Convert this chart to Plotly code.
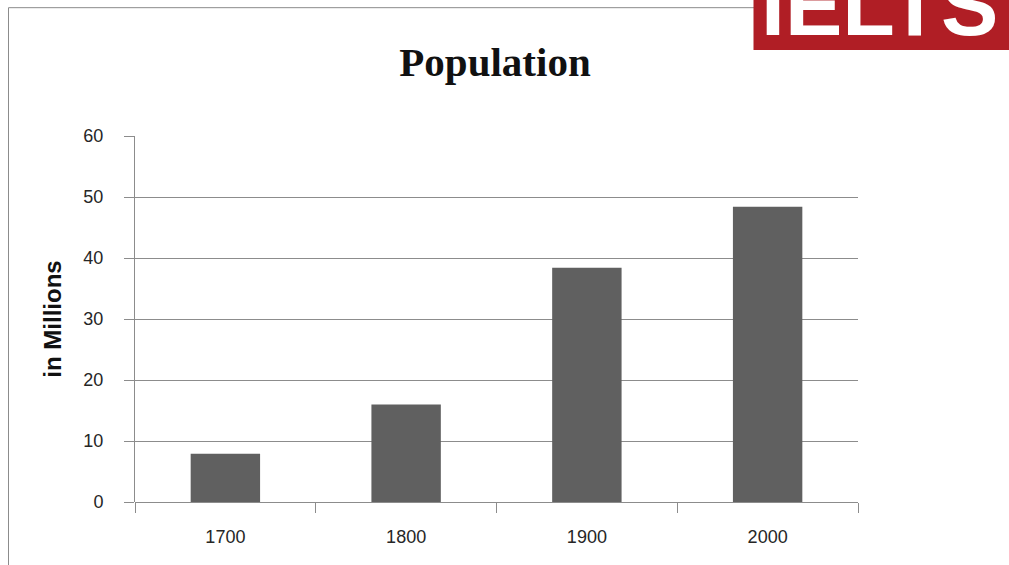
import plotly.graph_objects as go

years = ["1700", "1800", "1900", "2000"]
population = [7.9, 16.0, 38.4, 48.4]
y_ticks = [0, 10, 20, 30, 40, 50, 60]

W, H = 1009, 565
L, R, T, B = 135, 858, 136, 502.5

def px(x):
    return (x - L) / (R - L)

def py(y):
    return (B - y) / (B - T)

grid = "#8c8c8c"
tick_font = dict(family="Liberation Sans, Arial, sans-serif", size=18, color="#262626")

fig = go.Figure(go.Bar(x=years, y=population, marker=dict(color="#606060", line=dict(width=0))))

fig.update_layout(
    width=W, height=H,
    margin=dict(l=L, r=W - R, t=T, b=H - B),
    paper_bgcolor="white", plot_bgcolor="white",
    bargap=0.616,
    showlegend=False,
    title=dict(text="<b>Population</b>", x=495 / W, xref="container", xanchor="center",
               y=1 - 62 / H, yref="container", yanchor="middle",
               font=dict(family="Liberation Serif, Times New Roman, serif", size=41, color="#111111")),
    xaxis=dict(type="category", tickson="boundaries", ticks="outside", ticklen=10, tickcolor=grid,
               tickwidth=1, showgrid=False, showline=False, tickfont=tick_font,
               ticklabelstandoff=22, zeroline=False),
    yaxis=dict(range=[0, 60], tickvals=y_ticks, ticks="outside", ticklen=10, tickcolor=grid, tickwidth=1,
               showgrid=True, gridcolor=grid, gridwidth=1, showline=True, linecolor=grid, linewidth=1,
               zeroline=True, zerolinecolor=grid, zerolinewidth=1, tickfont=tick_font,
               ticklabelstandoff=17,
               title=dict(text="<b>in Millions</b>", standoff=14,
                          font=dict(family="Liberation Sans, Arial, sans-serif", size=24, color="#111111"))),
)

# chart frame (left and top border)
fig.add_shape(type="line", xref="paper", yref="paper", x0=px(8.5), x1=px(8.5), y0=py(7.5), y1=py(570),
              line=dict(color=grid, width=1))
fig.add_shape(type="line", xref="paper", yref="paper", x0=px(8.5), x1=px(754), y0=py(7.5), y1=py(7.5),
              line=dict(color=grid, width=1))
# IELTS logo box
fig.add_shape(type="rect", xref="paper", yref="paper", x0=px(753.5), x1=px(1015), y0=py(50), y1=py(-5),
              fillcolor="#b01e25", line=dict(width=0), layer="above")
fig.add_annotation(text="<b>IELTS</b>", xref="paper", yref="paper", x=px(759), y=py(55),
                   xanchor="left", yanchor="bottom", showarrow=False,
                   font=dict(family="Liberation Sans, Arial, sans-serif", size=86, color="white"))

fig.write_html("out.html", config={"displayModeBar": False},
               post_script="document.body.style.margin='0';document.body.style.overflow='hidden';")
